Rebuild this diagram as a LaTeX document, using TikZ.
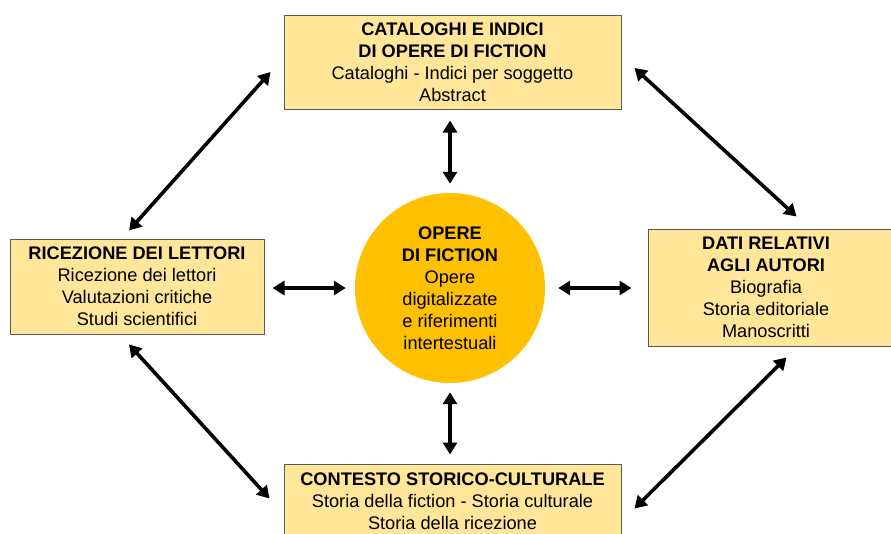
\documentclass[tikz,border=0pt]{standalone}
\usepackage{fontspec}
\setmainfont{Liberation Sans}
\usetikzlibrary{arrows.meta,calc}
\definecolor{boxfill}{HTML}{FFE699}
\definecolor{boxline}{HTML}{5A5A5A}
\definecolor{circfill}{HTML}{FFC000}
\tikzset{
  box/.style={draw=boxline, line width=1pt, fill=boxfill, inner sep=0pt},
  txt/.style={align=center, font=\fontsize{18.2}{22}\selectfont, inner sep=0pt},
  hub/.style={circle, fill=circfill, minimum size=190pt, inner sep=0pt},
  arr/.style={line width=3.6pt, {Triangle[length=12pt,width=14pt]}-{Triangle[length=12pt,width=14pt]}}
}
\begin{document}
\begin{tikzpicture}[x=1pt,y=-1pt]
\useasboundingbox (0,0) rectangle (891,533);
\clip (0,0) rectangle (891,533);
\fill[white] (0,0) rectangle (891,533);
% boxes
\node[box, minimum width=337pt, minimum height=94pt] (T) at (452.5,62) {};
\node[txt] (Tt) at (452.5,62) {\textbf{CATALOGHI E INDICI}\\\textbf{DI OPERE DI FICTION}\\Cataloghi - Indici per soggetto\\Abstract};
\node[box, minimum width=254pt, minimum height=95pt] (L) at (137,286.5) {};
\node[txt] (Lt) at (137,286.5) {\textbf{RICEZIONE DEI LETTORI}\\Ricezione dei lettori\\Valutazioni critiche\\Studi scientifici};
\node[box, minimum width=252pt, minimum height=117pt] (R) at (774,287.5) {};
\node[txt] (Rt) at (766,287.5) {\textbf{DATI RELATIVI}\\\textbf{AGLI AUTORI}\\Biografia\\Storia editoriale\\Manoscritti};
\node[box, minimum width=337pt, minimum height=94pt] (B) at (452.5,511) {};
\node[txt] (Bt) at (452.5,501) {\textbf{CONTESTO STORICO-CULTURALE}\\Storia della fiction - Storia culturale\\Storia della ricezione};
\node[hub] (C) at (450,288) {};
\node[txt] (Ct) at (450,288.5) {\textbf{OPERE}\\\textbf{DI FICTION}\\Opere\\digitalizzate\\e riferimenti\\intertestuali};
% arrows
\draw[arr] ($(T.west)+(-13,10)$) -- ($(L.north)+(-8,-8)$);
\draw[arr] ($(T.east)+(13,6)$) -- ($(R.north west)+(149,-12)$);
\draw[arr] ($(L.south)+(-8,10)$) -- ($(B.north west)+(-14,35)$);
\draw[arr] ($(R.south west)+(139,11)$) -- ($(B.north east)+(13,45)$);
\draw[arr] ($(C.north)+(0,-9)$) -- ($(C.north |- T.south)+(0,11)$);
\draw[arr] ($(C.south)+(0,9)$) -- ($(C.south |- B.north)+(0,-9)$);
\draw[arr] ($(C.west)+(-9,0)$) -- ($(L.east |- C.west)+(8,0)$);
\draw[arr] ($(C.east)+(13,0)$) -- ($(R.west |- C.east)+(-16,0)$);
\end{tikzpicture}
\end{document}
